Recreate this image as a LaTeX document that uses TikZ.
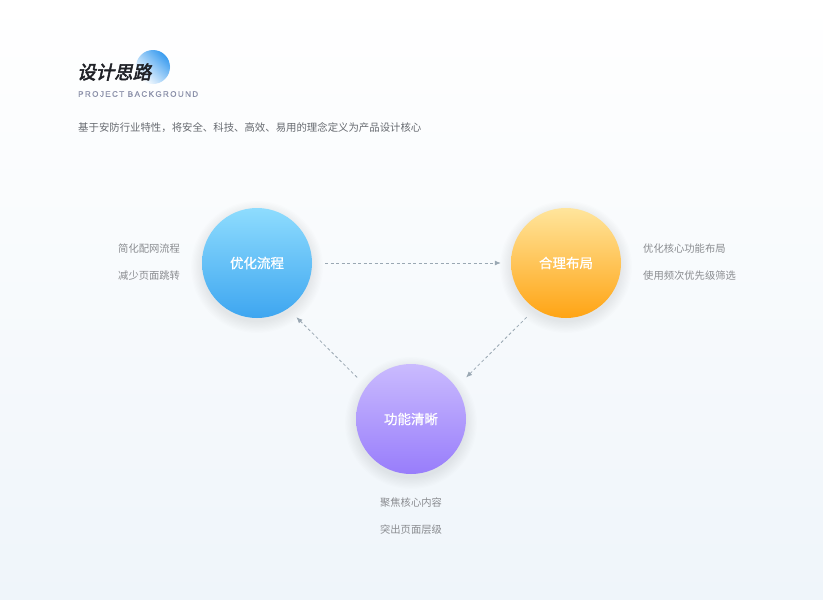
\documentclass[tikz,border=0pt]{standalone}
\usepackage{fontspec}
\setmainfont{Noto Sans CJK SC}
\newfontfamily\titlefont[FakeSlant=0.22,FakeBold=2.8]{Noto Sans CJK SC}
\newfontfamily\ballfont[FakeBold=0.8]{Noto Sans CJK SC}
\newfontfamily\enfont[LetterSpace=18,FakeBold=0.6]{Liberation Sans}
\usetikzlibrary{arrows.meta}
\definecolor{inkdark}{HTML}{1F2126}
\definecolor{inkgray}{HTML}{666A70}
\definecolor{notegray}{HTML}{8A8C90}
\definecolor{enblue}{HTML}{8C91AA}
\definecolor{linegray}{HTML}{9AA8B3}
\definecolor{bgblue}{HTML}{EFF5FA}
\definecolor{blueTop}{HTML}{8EDCFE}
\definecolor{blueBot}{HTML}{3EA6F0}
\definecolor{orangeTop}{HTML}{FFE59C}
\definecolor{orangeBot}{HTML}{FFA414}
\definecolor{purpleTop}{HTML}{CABBFE}
\definecolor{purpleBot}{HTML}{987DFB}
\definecolor{markBlue}{HTML}{3A9CEF}

\begin{document}
\begin{tikzpicture}[x=1pt,y=-1pt,
  ball/.style={circle,minimum size=110pt,inner sep=0pt,text=white,font=\ballfont\fontsize{13.5}{16}\selectfont},
  note/.style={text=notegray,font=\fontsize{10.3}{12}\selectfont,inner sep=0pt},
  flow/.style={draw=linegray,line width=0.8pt,dash pattern=on 3pt off 2.5pt,-{Latex[length=6pt,width=5pt]}}]
\fill[top color=white,bottom color=bgblue] (0,0) rectangle (823,600);
\useasboundingbox (0,0) rectangle (823,600);
\shade[left color=white,right color=markBlue,shading angle=135] (153,67) circle (17);
\node[anchor=west,inner sep=0pt,text=inkdark,font=\titlefont\fontsize{18.5}{20}\selectfont] (title) at (77,72) {设计思路};
\node[anchor=west,inner sep=0pt,text=enblue,font=\enfont\fontsize{8}{9}\selectfont] (title_en) at (78,94) {PROJECT BACKGROUND};
\node[anchor=west,inner sep=0pt,text=inkgray,font=\fontsize{10.4}{13}\selectfont] (intro) at (78,128) {基于安防行业特性，将安全、科技、高效、易用的理念定义为产品设计核心};
\coordinate (c_flow) at (257,263);
\coordinate (c_layout) at (566,263);
\coordinate (c_clear) at (411,419);
\foreach \c in {c_flow,c_layout,c_clear}
  \foreach \k in {1,...,10}
    \fill[black,opacity=0.007] ([yshift=-4pt]\c) circle (54+\k*1.2);
\node[ball,top color=blueTop,bottom color=blueBot] (flow_ball) at (c_flow) {优化流程};
\node[ball,top color=orangeTop,bottom color=orangeBot] (layout_ball) at (c_layout) {合理布局};
\node[ball,top color=purpleTop,bottom color=purpleBot] (clear_ball) at (c_clear) {功能清晰};
\node[note,anchor=west] (flow_a) at (118,249) {简化配网流程};
\node[note,anchor=west] (flow_b) at (118,276) {减少页面跳转};
\node[note,anchor=west] (layout_a) at (643,249) {优化核心功能布局};
\node[note,anchor=west] (layout_b) at (643,276) {使用频次优先级筛选};
\node[note] (clear_a) at (411,503) {聚焦核心内容};
\node[note] (clear_b) at (411,530) {突出页面层级};
\draw[flow,shorten <=13pt,shorten >=10pt] (flow_ball.east) -- (layout_ball.west);
\draw[flow,shorten <=12pt,shorten >=14pt] (layout_ball.-124) -- (clear_ball.35);
\draw[flow,shorten <=13pt,shorten >=12pt] (clear_ball.144) -- (flow_ball.-56);
\end{tikzpicture}
\end{document}
